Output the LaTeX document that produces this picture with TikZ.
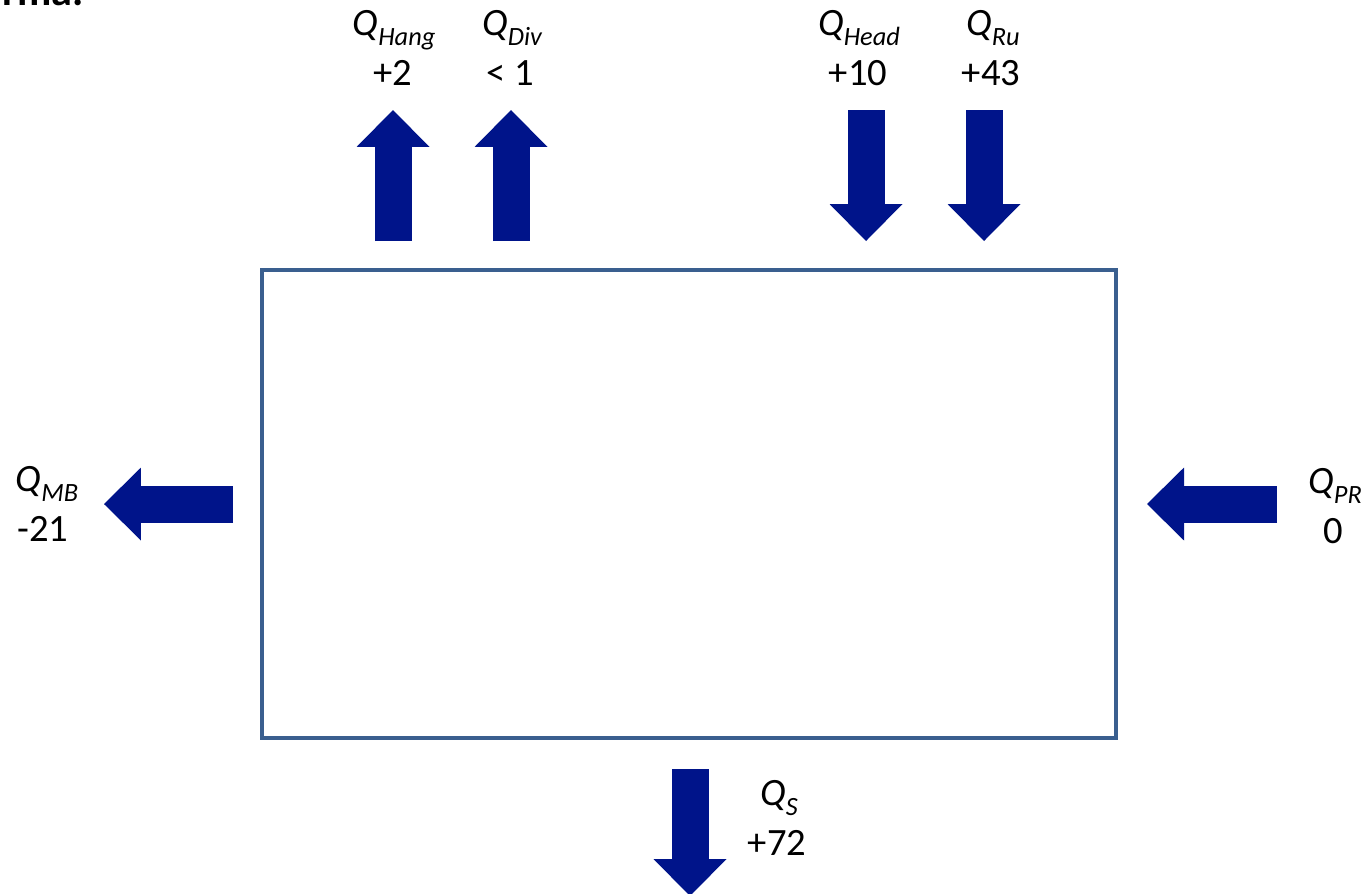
\documentclass[tikz,border=0pt]{standalone}
\usepackage{fontspec}
\setmainfont{Carlito}
\usepackage{tikz}
\usetikzlibrary{arrows.meta, positioning}
\definecolor{bxRand}{HTML}{3A5F8F}
\definecolor{bxPfeil}{HTML}{00148A}
\newcommand{\flussQ}[1]{\textit{Q}\raisebox{-6pt}{\fontsize{15}{15}\selectfont\itshape #1}}

\begin{document}
\begin{tikzpicture}[x=0.02cm, y=-0.02cm]
  \tikzset{
    fluss/.style={bxPfeil, line width=0.74cm,
                  -{Triangle[width=1.46cm, length=0.74cm, line width=0pt]}},
    qlab/.style={font=\fontsize{22}{24}\selectfont, inner sep=0pt, anchor=base}}
  \useasboundingbox (0,0) rectangle (1371,893);
  \node[font=\fontsize{24}{24}\selectfont\bfseries, anchor=base east, inner sep=0pt] (titel) at (84,5) {rma.};
  % Bilanzraum
  \node[draw=bxRand, line width=0.09cm, minimum width=17.08cm, minimum height=9.36cm,
        inner sep=0pt] (raum) at (689,504) {};
  % Zu- und Abfluesse
  \foreach \n/\xa/\ya/\xb/\yb in {hang/393/241/393/110, div/511/241/511/110,
      head/866/110/866/241, ru/984/110/984/241, mb/233/504/104/504,
      pr/1277/504/1147/504, s/690/769/690/896}{
    \coordinate (\n0) at (\xa,\ya);
    \coordinate (\n1) at (\xb,\yb);
    \draw[fluss] (\n0) -- (\n1);}
  \foreach \n/\s/\v/\x/\y/\xv in {hang/Hang/+2/394/35/393, div/Div/< 1/512/35/510,
      head/Head/+10/859/35/858, ru/Ru/+43/993/35/991, mb/MB/-21/47/491/43,
      pr/PR/0/1335/493/1333, s/S/+72/779/805/777}{
    \node[qlab] (q\n) at (\x,\y) {\flussQ{\s}};
    \node[qlab] (w\n) at (\xv,{\y+50}) {\v};}
\end{tikzpicture}
\end{document}
